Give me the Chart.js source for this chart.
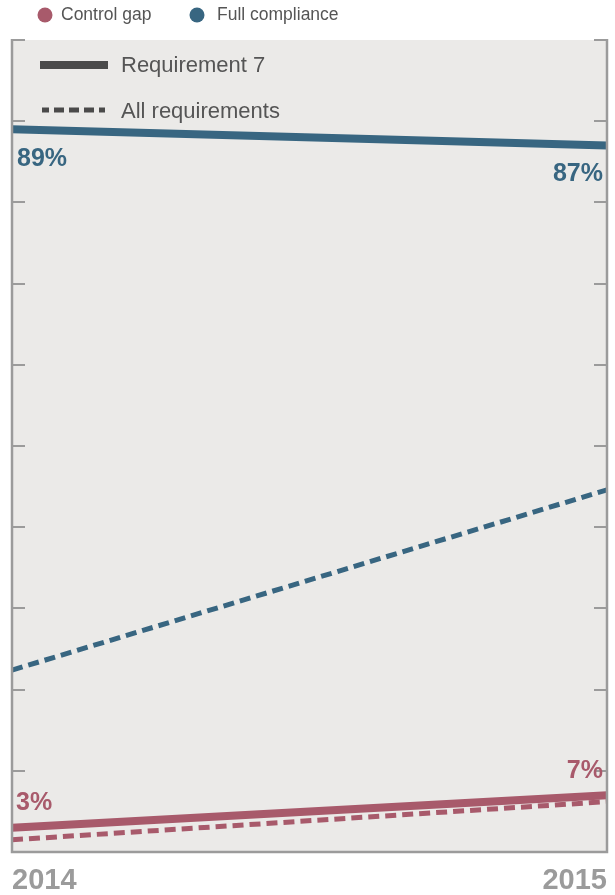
<!DOCTYPE html>
<html>
<head>
<meta charset="utf-8">
<script src="https://cdn.jsdelivr.net/npm/chart.js@4/dist/chart.umd.min.js"></script>
<style>
  html, body { margin: 0; padding: 0; background: #ffffff; }
  #wrap { width: 615px; height: 895px; position: relative; }
</style>
</head>
<body>
<div id="wrap"><canvas id="c" width="615" height="895"></canvas></div>
<script>
// Years on the x axis
const years = ['2014', '2015'];

// Share of organisations (%) — Requirement 7
const req7Compliance = [89, 87];
const req7Gap = [3, 7];

// Share of organisations (%) — all requirements
const allCompliance = [22.4, 44.6];
const allGap = [1.5, 6.2];

// Value labels printed next to the Requirement 7 lines
const complianceLabels = ['89%', '87%'];
const gapLabels = ['3%', '7%'];

// Legend entries
const legendSeries = ['Control gap', 'Full compliance'];
const legendStyles = ['Requirement 7', 'All requirements'];

const BLUE = '#386681';
const RED = '#a85a6b';
const AXIS = '#9b9b9b';
const FONT = '"Liberation Sans", Arial, sans-serif';

const decorations = {
  id: 'decorations',
  beforeDraw(chart) {
    const { ctx, chartArea: a } = chart;
    ctx.save();
    ctx.fillStyle = '#ebeae8';
    ctx.fillRect(a.left, a.top, a.right - a.left, a.bottom - a.top);
    ctx.restore();
  },
  afterDraw(chart) {
    const { ctx, chartArea: a } = chart;
    const x = chart.scales.x, y = chart.scales.y;
    ctx.save();

    // frame: left, right and bottom rules
    ctx.strokeStyle = AXIS;
    ctx.lineWidth = 2.5;
    ctx.beginPath();
    ctx.moveTo(a.left, a.top - 1);
    ctx.lineTo(a.left, a.bottom);
    ctx.lineTo(a.right, a.bottom);
    ctx.lineTo(a.right, a.top - 1);
    ctx.stroke();

    // inward tick marks every 10 points on both sides
    ctx.lineWidth = 2;
    for (let v = 10; v <= 100; v += 10) {
      const py = Math.round(y.getPixelForValue(v));
      ctx.beginPath();
      ctx.moveTo(a.left, py);
      ctx.lineTo(a.left + 13, py);
      ctx.moveTo(a.right, py);
      ctx.lineTo(a.right - 13, py);
      ctx.stroke();
    }

    // top legend: series colours
    ctx.font = '17.5px ' + FONT;
    ctx.textBaseline = 'middle';
    ctx.fillStyle = RED;
    ctx.beginPath(); ctx.arc(45, 15, 7.5, 0, Math.PI * 2); ctx.fill();
    ctx.fillStyle = '#555555';
    ctx.fillText(legendSeries[0], 61, 15);
    ctx.fillStyle = BLUE;
    ctx.beginPath(); ctx.arc(197, 15, 7.5, 0, Math.PI * 2); ctx.fill();
    ctx.fillStyle = '#555555';
    ctx.fillText(legendSeries[1], 217, 15);

    // inner legend: line styles
    ctx.strokeStyle = '#4a4a4a';
    ctx.lineWidth = 8;
    ctx.beginPath(); ctx.moveTo(40, 65); ctx.lineTo(108, 65); ctx.stroke();
    ctx.lineWidth = 5;
    ctx.setLineDash([10, 5]);
    ctx.lineDashOffset = 3;
    ctx.beginPath(); ctx.moveTo(42, 110); ctx.lineTo(105, 110); ctx.stroke();
    ctx.setLineDash([]);
    ctx.font = '22px ' + FONT;
    ctx.textBaseline = 'alphabetic';
    ctx.fillStyle = '#555555';
    ctx.fillText(legendStyles[0], 121, 72);
    ctx.fillText(legendStyles[1], 121, 118);

    // value labels
    ctx.font = 'bold 25px ' + FONT;
    const x0 = x.getPixelForValue(0), x1 = x.getPixelForValue(1);
    ctx.fillStyle = BLUE;
    ctx.textAlign = 'left';
    ctx.fillText(complianceLabels[0], x0 + 5, y.getPixelForValue(req7Compliance[0]) + 37);
    ctx.textAlign = 'right';
    ctx.fillText(complianceLabels[1], x1 - 4, y.getPixelForValue(req7Compliance[1]) + 35);
    ctx.fillStyle = RED;
    ctx.textAlign = 'left';
    ctx.fillText(gapLabels[0], x0 + 4, y.getPixelForValue(req7Gap[0]) - 18);
    ctx.textAlign = 'right';
    ctx.fillText(gapLabels[1], x1 - 4, y.getPixelForValue(req7Gap[1]) - 17);

    // year labels
    ctx.font = 'bold 29px ' + FONT;
    ctx.fillStyle = AXIS;
    ctx.textAlign = 'left';
    ctx.fillText(years[0], x0, 889);
    ctx.textAlign = 'right';
    ctx.fillText(years[1], x1, 889);

    ctx.restore();
  }
};

new Chart(document.getElementById('c'), {
  type: 'line',
  data: {
    labels: years,
    datasets: [
      { label: 'All requirements – full compliance', data: allCompliance, borderColor: BLUE, borderWidth: 5, borderDash: [11, 6] },
      { label: 'All requirements – control gap', data: allGap, borderColor: RED, borderWidth: 5, borderDash: [11, 6] },
      { label: 'Requirement 7 – full compliance', data: req7Compliance, borderColor: BLUE, borderWidth: 8 },
      { label: 'Requirement 7 – control gap', data: req7Gap, borderColor: RED, borderWidth: 8 }
    ]
  },
  options: {
    responsive: false,
    animation: false,
    devicePixelRatio: 1,
    layout: { padding: { left: 12, right: 8, top: 40, bottom: 43 } },
    elements: {
      point: { radius: 0, hoverRadius: 0 },
      line: { tension: 0, borderCapStyle: 'butt', fill: false }
    },
    scales: {
      x: { type: 'category', offset: false, display: false },
      y: { min: 0, max: 100, display: false }
    },
    plugins: {
      legend: { display: false },
      tooltip: { enabled: false }
    }
  },
  plugins: [decorations]
});
</script>
</body>
</html>
